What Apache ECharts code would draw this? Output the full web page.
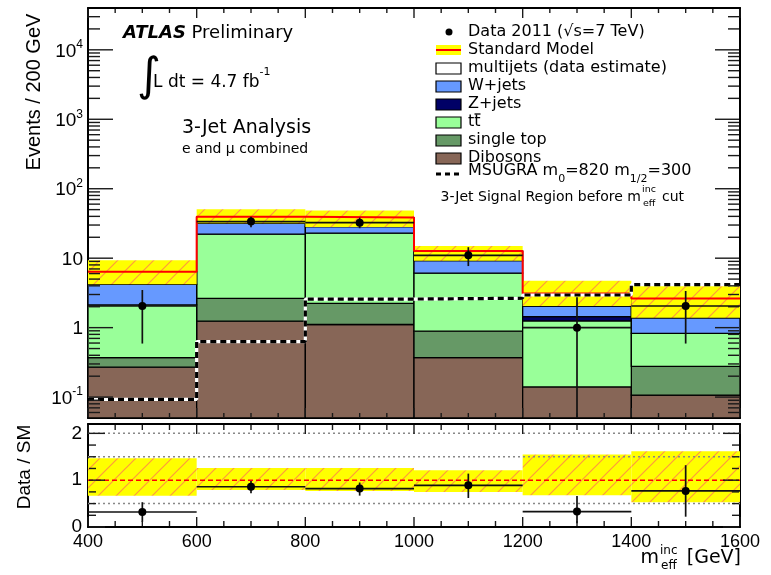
<!DOCTYPE html>
<html><head><meta charset="utf-8">
<script src="https://cdn.jsdelivr.net/npm/echarts@6.0.0/dist/echarts.min.js"></script>
<style>html,body{margin:0;padding:0;background:#fff;}#chart{width:771px;height:575px;}</style>
</head><body><div id="chart"></div>
<script>
// ---------------- data ----------------
const binEdges   = [400, 600, 800, 1000, 1200, 1400, 1600];
const dibosons   = [0.27, 1.24, 1.11, 0.37, 0.14, 0.107];
const singleTop  = [0.10, 1.40, 1.13, 0.52, 0.00, 0.17];
const ttbar      = [1.75, 19.5, 20.7, 5.2, 1.11, 0.55];
const zjets      = [0.00, 0.00, 0.00, 0.00, 0.19, 0.00];
const wjets      = [2.08, 9.7, 5.5, 3.15, 0.61, 0.56];
const multijets  = [2.2, 7.8, 10.0, 3.5, 1.05, 1.25];
const smBandLow  = [4.2, 31.8, 28.2, 9.2, 2.05, 1.39];
const smBandHigh = [9.3, 50.7, 48.4, 15.0, 4.74, 4.1];
const msugra     = [0.093, 0.63, 2.58, 2.65, 2.95, 4.15];
const dataVals    = [2.05, 33.6, 32.5, 11.0, 1.0, 2.05];
const dataErrLow  = [0.59, 27.8, 27.0, 7.7, 0, 0.59];
const dataErrHigh = [3.48, 39.4, 38.4, 14.4, 2.73, 3.37];
const ratioVals     = [0.32, 0.86, 0.82, 0.89, 0.33, 0.77];
const ratioErrLow   = [0.11, 0.72, 0.67, 0.62, 0.08, 0.22];
const ratioErrHigh  = [0.53, 0.98, 0.95, 1.14, 0.66, 1.32];
const ratioBandLow  = [0.67, 0.79, 0.77, 0.75, 0.68, 0.53];
const ratioBandHigh = [1.47, 1.26, 1.26, 1.21, 1.55, 1.62];
const ratioRefLines = [0.5, 1.5, 2];
const xMajorTicks = [400, 600, 800, 1000, 1200, 1400, 1600];
const xMinorTicks = [450, 500, 550, 650, 700, 750, 850, 900, 950, 1050, 1100, 1150, 1250, 1300, 1350, 1450, 1500, 1550];
const yLogMajorTicks = [0.1, 1, 10, 100, 1000, 10000];
const ratioMajorTicks = [0, 1, 2];
const ratioMinorTicks = [0.25, 0.5, 0.75, 1.25, 1.5, 1.75];
const legendLabels = ['Data 2011 (\u221As=7 TeV)', 'Standard Model', 'multijets (data estimate)', 'W+jets', 'Z+jets',
  'tt', 'single top', 'Dibosons', 'MSUGRA m{sub|0}=820 m{sub|1/2}=300'];

// ---------------- settings ----------------
const yMin = 0.05, yMax = 40000;
const F_TICK = 'Liberation Sans';
const F_TXT = 'DejaVu Sans';
const colors = {dib:'#876657', st:'#669966', tt:'#99ff99', z:'#000066', w:'#6699ff', mj:'#ffffff'};
const TICK_COLOR = '#1a1a1a';
const nb = binEdges.length - 1;

function makeHatch() {
  const s = 18, c = document.createElement('canvas');
  c.width = s; c.height = s;
  const g = c.getContext('2d');
  g.fillStyle = '#ffff00'; g.fillRect(0, 0, s, s);
  g.strokeStyle = '#ff9a3c'; g.lineWidth = 1.2;
  g.beginPath();
  g.moveTo(-2, s + 2); g.lineTo(s + 2, -2);
  g.moveTo(-2, 2); g.lineTo(2, -2);
  g.moveTo(s - 2, s + 2); g.lineTo(s + 2, s - 2);
  g.stroke();
  return c;
}
const hatch = makeHatch();

function binData(lo, hi) {
  const out = [];
  for (let i = 0; i < nb; i++) if (hi[i] > lo[i]) out.push([binEdges[i], binEdges[i + 1], lo[i], hi[i]]);
  return out;
}
function stepData(vals) {
  const out = [];
  for (let i = 0; i < nb; i++) { out.push([binEdges[i], vals[i]]); out.push([binEdges[i + 1], vals[i]]); }
  return out;
}
function rectSeries(data, style, gi) {
  return {
    type: 'custom', xAxisIndex: gi === 1 ? 2 : 0, yAxisIndex: gi === 1 ? 2 : 0, clip: true,
    dimensions: ['x0', 'x1', 'lo', 'hi'], encode: {x: [0, 1], y: [2, 3]}, data,
    renderItem: (p, api) => {
      const a = api.coord([api.value(0), api.value(3)]);
      const b = api.coord([api.value(1), api.value(2)]);
      return {type: 'rect', shape: {x: a[0], y: a[1], width: b[0] - a[0], height: b[1] - a[1]}, style: Object.assign({}, style)};
    }
  };
}
function pointSeries(vals, lo, hi, gi, floor) {
  const data = [];
  for (let i = 0; i < nb; i++) data.push([binEdges[i], binEdges[i + 1], vals[i], lo[i], hi[i]]);
  return {
    type: 'custom', xAxisIndex: gi === 1 ? 2 : 0, yAxisIndex: gi === 1 ? 2 : 0, clip: true, z: 6,
    dimensions: ['x0', 'x1', 'y', 'lo', 'hi'], encode: {x: [0, 1], y: [2]}, data,
    renderItem: (p, api) => {
      const x0 = api.value(0), x1 = api.value(1), y = api.value(2);
      const l = Math.max(api.value(3), floor), h = api.value(4), xc = (x0 + x1) / 2;
      const pL = api.coord([x0, y]), pR = api.coord([x1, y]), pc = api.coord([xc, y]);
      const pLo = api.coord([xc, l]), pHi = api.coord([xc, h]);
      return {type: 'group', children: [
        {type: 'line', shape: {x1: pL[0], y1: pL[1], x2: pR[0], y2: pR[1]}, style: {stroke: '#111', lineWidth: 1.7}},
        {type: 'line', shape: {x1: pLo[0], y1: pLo[1], x2: pHi[0], y2: pHi[1]}, style: {stroke: '#111', lineWidth: 1.7}},
        {type: 'circle', shape: {cx: pc[0], cy: pc[1], r: 4}, style: {fill: '#000'}}
      ]};
    }
  };
}

// ---------------- stack ----------------
const series = [];
const layers = [[dibosons, colors.dib], [singleTop, colors.st], [ttbar, colors.tt], [zjets, colors.z], [wjets, colors.w], [multijets, colors.mj]];
let cum = new Array(nb).fill(0);
layers.forEach(([vals, col]) => {
  const lo = cum.map(v => Math.max(v, yMin));
  const hi = cum.map((c, i) => c + vals[i]);
  series.push(rectSeries(binData(lo, hi), {fill: col, stroke: '#000', lineWidth: 1.3}, 0));
  cum = hi;
});
const smTotal = cum.slice();
series.push(rectSeries(binData(smBandLow, smBandHigh), {fill: {image: hatch, repeat: 'repeat'}}, 0));
series.push({type: 'line', xAxisIndex: 0, yAxisIndex: 0, data: stepData(smTotal), showSymbol: false, symbol: 'none', z: 4,
  lineStyle: {color: '#ff0000', width: 2}, silent: true});
series.push({type: 'line', xAxisIndex: 0, yAxisIndex: 0, data: stepData(msugra), showSymbol: false, symbol: 'none', z: 5,
  lineStyle: {color: '#ffffff', width: 3.2}, silent: true});
series.push({type: 'line', xAxisIndex: 0, yAxisIndex: 0, data: stepData(msugra), showSymbol: false, symbol: 'none', z: 5,
  lineStyle: {color: '#000000', width: 3.2, type: [6, 4]}, silent: true});
series.push(pointSeries(dataVals, dataErrLow, dataErrHigh, 0, yMin));

// ---------------- ratio ----------------
series.push(rectSeries(binData(ratioBandLow, ratioBandHigh), {fill: {image: hatch, repeat: 'repeat'}}, 1));
ratioRefLines.forEach(v => series.push({type: 'line', xAxisIndex: 2, yAxisIndex: 2, data: [[binEdges[0], v], [binEdges[nb], v]],
  showSymbol: false, symbol: 'none', z: 4, silent: true, lineStyle: {color: '#888', width: 1.5, type: [2, 3]}}));
series.push({type: 'line', xAxisIndex: 2, yAxisIndex: 2, data: [[binEdges[0], 1], [binEdges[nb], 1]], showSymbol: false, symbol: 'none',
  z: 4, silent: true, lineStyle: {color: '#ff0000', width: 1.5, type: [5, 3]}});
series.push(pointSeries(ratioVals, ratioErrLow, ratioErrHigh, 1, 0));

// ---------------- axes ----------------
function xAx(gi, pos, labels) {
  return {type: 'value', gridIndex: gi, min: 400, max: 1600, interval: 200, position: pos,
    axisLine: {show: true, onZero: false, lineStyle: {color: '#000', width: 2}},
    axisTick: {show: false}, minorTick: {show: false},
    splitLine: {show: false}, minorSplitLine: {show: false},
    axisLabel: labels ? {show: true, fontFamily: F_TICK, fontSize: 18, color: '#000', margin: 6, showMinLabel: true, showMaxLabel: true,
      formatter: v => String(v)} : {show: false}};
}
const logRich = {
  b: {fontFamily: F_TICK, fontSize: 19, color: '#000', lineHeight: 22, verticalAlign: 'bottom'},
  s: {fontFamily: F_TICK, fontSize: 12, color: '#000', lineHeight: 12, verticalAlign: 'top'}
};
function logLabel(v) {
  const l = Math.log10(v), e = Math.round(l);
  if (Math.abs(l - e) > 1e-6) return '';
  if (e === 0) return '{b|1}';
  if (e === 1) return '{b|10}';
  return '{b|10}{s|' + e + '}';
}
function yLog(pos, labels) {
  return {type: 'log', logBase: 10, gridIndex: 0, min: yMin, max: yMax, position: pos,
    axisLine: {show: true, lineStyle: {color: '#000', width: 2}},
    axisTick: {show: false}, minorTick: {show: false}, splitLine: {show: false},
    axisLabel: labels ? {show: true, margin: 5, formatter: logLabel, rich: logRich, showMinLabel: false, showMaxLabel: false} : {show: false}};
}
function yRatio(pos, labels) {
  return {type: 'value', gridIndex: 1, min: 0, max: 2.2, interval: 1, position: pos,
    axisLine: {show: true, onZero: false, lineStyle: {color: '#000', width: 2}},
    axisTick: {show: false}, minorTick: {show: false}, splitLine: {show: false},
    axisLabel: labels ? {show: true, margin: 6, fontFamily: F_TICK, fontSize: 19, color: '#000', showMaxLabel: false,
      formatter: v => (Math.abs(v - Math.round(v)) < 1e-9 && v <= 2) ? String(Math.round(v)) : ''} : {show: false}};
}

// ---------------- text / legend graphics ----------------
const T = (text, x, y, size, opts) => Object.assign({type: 'text', x, y, z: 20,
  style: Object.assign({text, fontFamily: F_TXT, fontSize: size, fill: '#000', align: 'left', verticalAlign: 'middle'}, (opts && opts.style) || {})},
  opts && opts.rotation !== undefined ? {rotation: opts.rotation} : {});
const graphics = [];
graphics.push(T('{a|ATLAS} {p|Preliminary}', 123, 33, 18, {style: {rich: {
  a: {fontFamily: F_TXT, fontSize: 18, fontWeight: 'bold', fontStyle: 'italic'}, p: {fontFamily: F_TXT, fontSize: 18}}}}));
graphics.push(T('\u222B', 137, 78, 46));
graphics.push(T('{n|L dt = 4.7 fb}{s|-1}', 153, 79, 17, {style: {rich: {
  n: {fontFamily: F_TXT, fontSize: 17, lineHeight: 24, verticalAlign: 'bottom'}, s: {fontFamily: F_TXT, fontSize: 11, lineHeight: 11, verticalAlign: 'top'}}}}));
graphics.push(T('3-Jet Analysis', 182, 128, 19));
graphics.push(T('e and \u03BC combined', 182, 149, 14));
const legY = [32, 50, 68, 86, 104, 122, 140, 158, 174];
const boxFills = [null, null, colors.mj, colors.w, colors.z, colors.tt, colors.st, colors.dib, null];
legendLabels.forEach((lab, i) => {
  if (i === 8) {
    graphics.push(T('{n|MSUGRA m}{sub|0}{n|=820 m}{sub|1/2}{n|=300}', 468, legY[i], 16, {style: {rich: {
      n: {fontFamily: F_TXT, fontSize: 16, lineHeight: 22, verticalAlign: 'top'},
      sub: {fontFamily: F_TXT, fontSize: 11, lineHeight: 11, verticalAlign: 'bottom'}}}}));
  } else {
    graphics.push(T(lab, 468, legY[i], 16));
  }
  if (boxFills[i]) graphics.push({type: 'rect', z: 20, shape: {x: 436, y: legY[i] - 5, width: 25, height: 11},
    style: {fill: boxFills[i], stroke: '#000', lineWidth: 1.2}});
});
graphics.push({type: 'line', z: 21, shape: {x1: 474.5, y1: 114, x2: 480.5, y2: 114}, style: {stroke: '#000', lineWidth: 1.3}});
graphics.push({type: 'circle', z: 20, shape: {cx: 449, cy: legY[0], r: 3.5}, style: {fill: '#000'}});
graphics.push({type: 'rect', z: 20, shape: {x: 436, y: legY[1] - 5, width: 25, height: 10}, style: {fill: '#ffff00'}});
graphics.push({type: 'line', z: 21, shape: {x1: 436, y1: legY[1], x2: 461, y2: legY[1]}, style: {stroke: '#ff0000', lineWidth: 2}});
graphics.push({type: 'line', z: 21, shape: {x1: 436, y1: legY[8], x2: 461, y2: legY[8]}, style: {stroke: '#000', lineWidth: 3, lineDash: [5, 4]}});
graphics.push(T('3-Jet Signal Region before m', 641, 197, 14, {style: {align: 'right'}}));
graphics.push(T('inc', 642, 190, 9.5));
graphics.push(T('eff', 643, 204, 9.5));
graphics.push(T('cut', 662, 197, 14));
graphics.push(T('Events / 200 GeV', 34, 92, 20, {rotation: Math.PI / 2, style: {fontFamily: F_TICK, align: 'center'}}));
graphics.push(T('Data / SM', 25, 467, 19, {rotation: Math.PI / 2, style: {fontFamily: F_TICK, align: 'center'}}));
graphics.push(T('m', 659, 558, 19, {style: {align: 'right'}}));
graphics.push(T('inc', 660, 551, 12));
graphics.push(T('eff', 661, 566, 12));
graphics.push(T('[GeV]', 741, 558, 19, {style: {align: 'right'}}));

const chart = echarts.init(document.getElementById('chart'), null, {renderer: 'canvas'});
chart.setOption({
  animation: false,
  backgroundColor: '#fff',
  grid: [
    {left: 88, right: 31, top: 8, height: 410, containLabel: false, outerBoundsMode: 'none'},
    {left: 88, right: 31, top: 424, height: 103, containLabel: false, outerBoundsMode: 'none'}
  ],
  xAxis: [xAx(0, 'bottom', false), xAx(0, 'top', false), xAx(1, 'bottom', true), xAx(1, 'top', false)],
  yAxis: [yLog('left', true), yLog('right', false), yRatio('left', true), yRatio('right', false)],
  series
});

// ---------------- ticks (positions from the chart's own axes) ----------------
function num(v) { return Number(Array.isArray(v) ? v[0] : v); }
function px(ai, v) { return num(chart.convertToPixel({xAxisIndex: ai}, v)); }
function py(ai, v) { return num(chart.convertToPixel({yAxisIndex: ai}, v)); }
function tk(x1, y1, x2, y2) {
  graphics.push({type: 'line', z: 22, shape: {x1: +x1.toFixed(2), y1: +y1.toFixed(2), x2: +x2.toFixed(2), y2: +y2.toFixed(2)},
    style: {stroke: TICK_COLOR, lineWidth: 1.4}});
}
function panelTicks(ai, yTop, yBot, yMajors, yMinors, yMajLen, yMinLen, xMajLen, xMinLen) {
  const xl = px(ai, binEdges[0]), xr = px(ai, binEdges[nb]);
  const pt = py(ai, yTop), pb = py(ai, yBot);
  yMajors.forEach(v => { const y = py(ai, v); tk(xl + 1, y, xl + yMajLen, y); tk(xr - 1, y, xr - yMajLen, y); });
  yMinors.forEach(v => { const y = py(ai, v); tk(xl + 1, y, xl + yMinLen, y); tk(xr - 1, y, xr - yMinLen, y); });
  xMajorTicks.forEach(v => { const x = px(ai, v); tk(x, pb - 1, x, pb - xMajLen); tk(x, pt + 1, x, pt + xMajLen); });
  xMinorTicks.forEach(v => { const x = px(ai, v); tk(x, pb - 1, x, pb - xMinLen); tk(x, pt + 1, x, pt + xMinLen); });
}
const logMinor = [];
yLogMajorTicks.concat([0.01]).forEach(d => { for (let m = 2; m <= 9; m++) { const v = m * d; if (v > yMin && v < yMax) logMinor.push(v); } });
try {
  panelTicks(0, yMax, yMin, yLogMajorTicks, logMinor, 25, 12, 10, 5);
  panelTicks(2, 2.2, 0, ratioMajorTicks, ratioMinorTicks, 17, 8, 10, 6);
} catch (e) { /* ticks are decoration only */ }
chart.setOption({graphic: graphics});
</script></body></html>
